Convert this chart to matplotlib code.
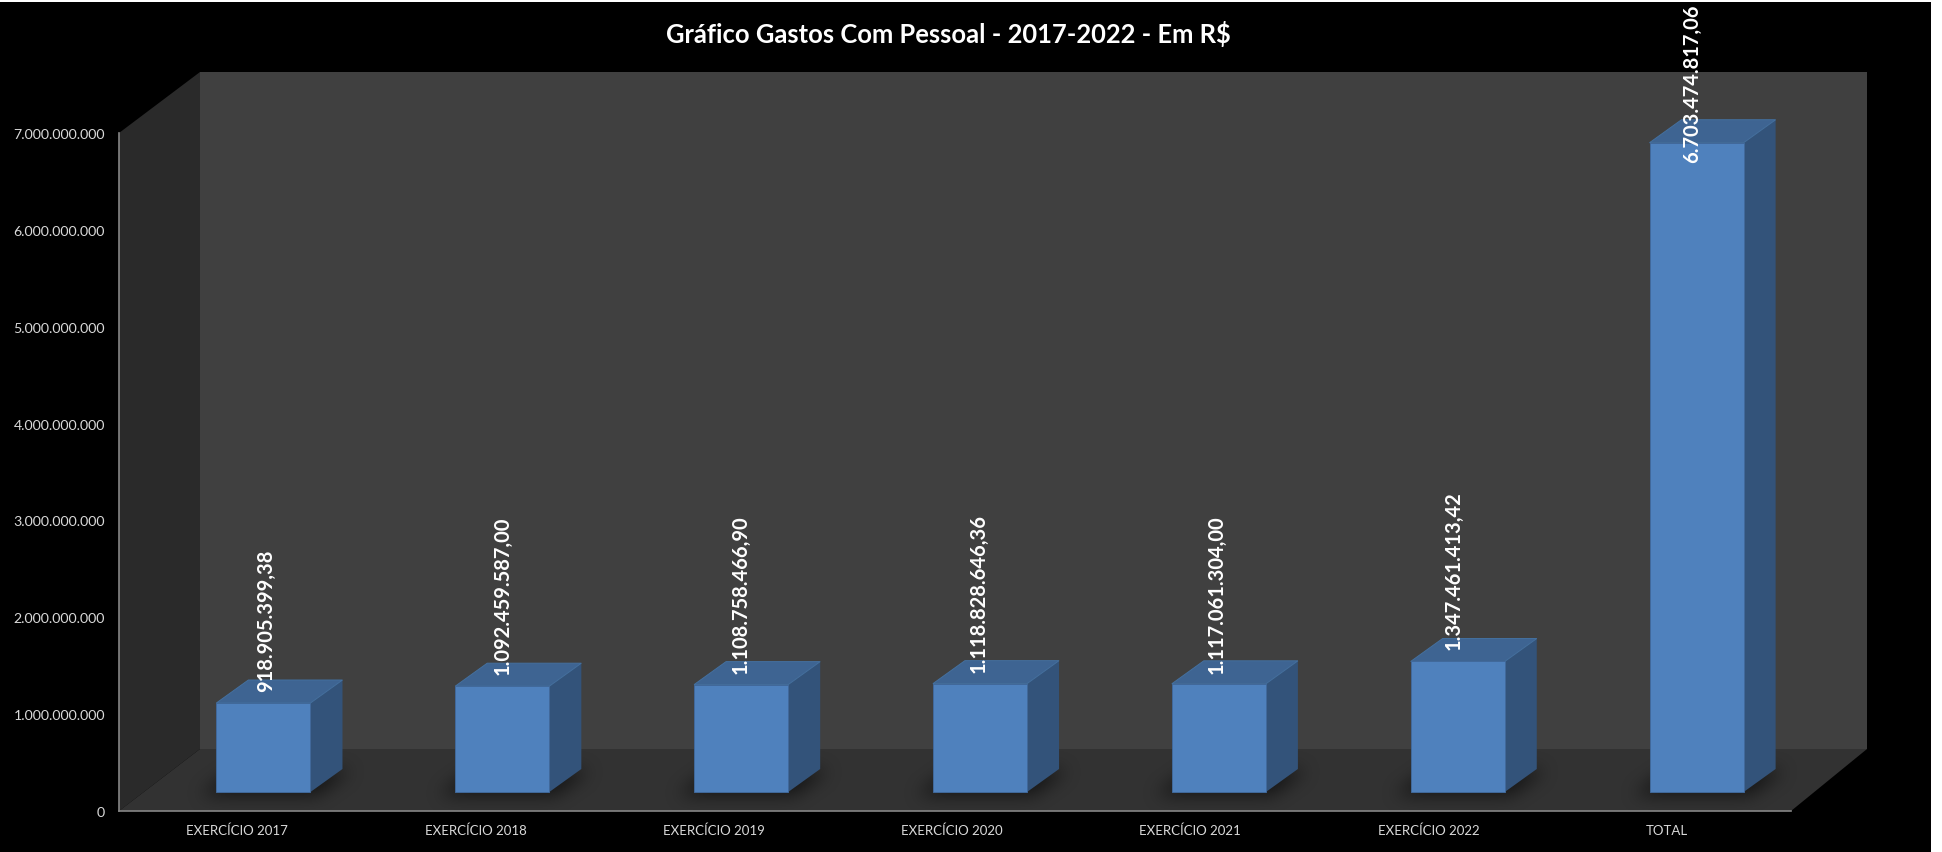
import numpy as np
import matplotlib
matplotlib.use("AGG")
from matplotlib import pyplot as plt
from matplotlib.patches import Polygon, Rectangle
from matplotlib.transforms import Affine2D, IdentityTransform

plt.rcParams['font.family'] = ['Lato', 'DejaVu Sans']

categorias = ["EXERCÍCIO 2017", "EXERCÍCIO 2018", "EXERCÍCIO 2019", "EXERCÍCIO 2020",
              "EXERCÍCIO 2021", "EXERCÍCIO 2022", "TOTAL"]
valores = [918905399.38, 1092459587.00, 1108758466.90, 1118828646.36,
           1117061304.00, 1347461413.42, 6703474817.06]
rotulos = ["918.905.399,38", "1.092.459.587,00", "1.108.758.466,90", "1.118.828.646,36",
           "1.117.061.304,00", "1.347.461.413,42", "6.703.474.817,06"]
yticks = [0, 1000000000, 2000000000, 3000000000, 4000000000, 5000000000, 6000000000, 7000000000]

W, H = 1942, 852
# profundidade do "3D" em pixels
PAREDE_DX, PAREDE_DY = 81, 62
BASE_DX, BASE_DY = 25, 19
BARRA_DX, BARRA_DY = 32, 23
LARGURA = 0.394
# deslocamento de cada rotulo em relacao ao topo da barra (posicionados a mao no original)
rotulo_dx = [2.5, 0, -1, -1, -2.5, -4, -4]
rotulo_dy = [11, 11, 11, 11, 10, 11, -20]

fig = plt.figure(figsize=(W / 100, H / 100), dpi=100, facecolor="white")

# fundo em coordenadas de pixel
bg = fig.add_axes([0, 0, 1, 1])
bg.axis("off")
bg.set_xlim(0, W)
bg.set_ylim(H, 0)
bg.add_patch(Rectangle((0, 2), 1931, H - 2, fc="black", ec="none"))

x0, x1, y0, y1 = 119, 1791, 811, 133
topo_y = y1 - PAREDE_DY + 1
base_y = y0 - PAREDE_DY
dir_x = x1 + PAREDE_DX - 5
bg.add_patch(Polygon([(x0 + PAREDE_DX, topo_y), (dir_x, topo_y), (dir_x, base_y), (x0 + PAREDE_DX, base_y)],
                     fc="#404040", ec="none"))
bg.add_patch(Polygon([(x0, y1), (x0 + PAREDE_DX, topo_y), (x0 + PAREDE_DX, base_y), (x0, y0)],
                     fc="#2a2a2a", ec="none"))
chao = Polygon([(x0, y0), (x0 + PAREDE_DX, base_y), (dir_x, base_y), (x1, y0)], fc="#323232", ec="none")
bg.add_patch(chao)

ax = fig.add_axes([x0 / W, 1 - y0 / H, (x1 - x0) / W, (y0 - y1) / H])
ax.patch.set_alpha(0)
ax.set_xlim(-0.5, len(categorias) - 0.5)
ax.set_ylim(0, 7000000000)
pos = np.arange(len(categorias))

# sombra das barras no chao
mask = np.zeros((H, W))
for p in pos:
    esq = ax.transData.transform((p - LARGURA / 2, 0))[0] + BASE_DX
    dir_ = ax.transData.transform((p + LARGURA / 2, 0))[0] + BASE_DX
    base = y0 - BASE_DY
    for k in range(-2, BARRA_DY):
        sx = BARRA_DX * k / BARRA_DY
        mask[base - k, int(esq - 12 + sx):int(dir_ + 10 + sx)] = 1.0
nucleo = np.ones(17) / 17
for _ in range(3):
    mask = np.apply_along_axis(lambda r: np.convolve(r, nucleo, mode="same"), 1, mask)
    mask = np.apply_along_axis(lambda c: np.convolve(c, nucleo, mode="same"), 0, mask)
sombra = np.zeros((H, W, 4))
sombra[..., 3] = np.clip(mask * 0.6, 0, 1)
im = bg.imshow(sombra, extent=(0, W, H, 0), aspect="auto", interpolation="bilinear", zorder=2)
im.set_clip_path(chao)
bg.set_xlim(0, W)
bg.set_ylim(H, 0)

# barras: lado + topo + frente
frente = ax.transData + Affine2D().translate(BASE_DX, BASE_DY)
fundo = ax.transData + Affine2D().translate(BASE_DX + BARRA_DX, BASE_DY + BARRA_DY)
pixel = IdentityTransform()
for p, v in zip(pos, valores):
    e, d = p - LARGURA / 2, p + LARGURA / 2
    lado = [frente.transform((d, 0)), frente.transform((d, v)),
            fundo.transform((d, v)), fundo.transform((d, 0))]
    topo = [frente.transform((e, v)), frente.transform((d, v)),
            fundo.transform((d, v)), fundo.transform((e, v))]
    ax.add_patch(Polygon(lado, closed=True, fc="#33537a", ec="none", transform=pixel, clip_on=False))
    ax.add_patch(Polygon(topo, closed=True, fc="#3e6492", ec="#44709f", lw=0.7, transform=pixel, clip_on=False))

ax.bar(pos, valores, width=LARGURA, color="#4f81bd", edgecolor="#41699b", linewidth=0.7,
       transform=frente, clip_on=False)

for p, v, t, dx, dy in zip(pos, valores, rotulos, rotulo_dx, rotulo_dy):
    ax.annotate(t, xy=(p, v), xycoords=frente, xytext=(dx, dy), textcoords="offset pixels",
                rotation=90, ha="center", va="bottom", color="white", fontsize=14.5,
                fontweight="bold", annotation_clip=False)

for s in ["top", "right"]:
    ax.spines[s].set_visible(False)
for s in ["left", "bottom"]:
    ax.spines[s].set_color("#868686")
    ax.spines[s].set_linewidth(1.2)

# o rotulo do eixo x no original fica um pouco a esquerda do centro da categoria
ax.set_xticks(pos * 0.9975 - 0.005)
ax.set_xticklabels(categorias)
ax.set_yticks(yticks)
ax.set_yticklabels([f"{v:,}".replace(",", ".") for v in yticks])
ax.tick_params(axis="both", length=0, colors="#d9d9d9")
ax.tick_params(axis="x", pad=10, labelsize=9.5)
ax.tick_params(axis="y", pad=10, labelsize=10.2)
for lab in ax.get_yticklabels():
    lab.set_transform(lab.get_transform() + Affine2D().translate(0, -1))

fig.text(948 / W, 1 - 34 / H, "Gráfico Gastos Com Pessoal - 2017-2022 - Em R$", color="white",
         fontsize=18.4, fontweight="bold", ha="center", va="center")

plt.savefig("out.png", dpi=100)
